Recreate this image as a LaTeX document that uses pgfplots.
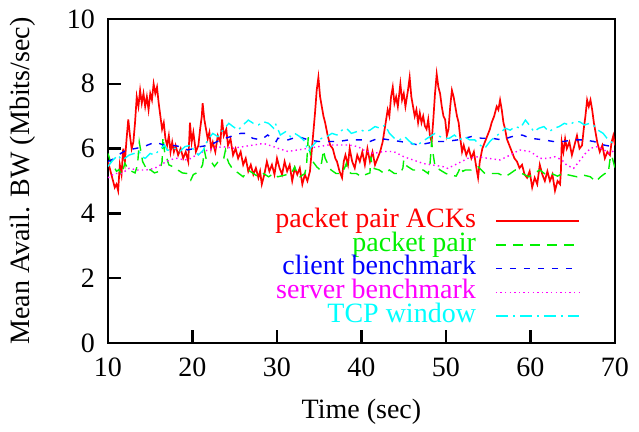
\documentclass[border=0pt]{standalone}
\usepackage{pgfplots}
\pgfplotsset{compat=1.18}
\usepackage{fontspec}
\setmainfont{Liberation Serif}

\definecolor{gpred}{RGB}{255,0,0}
\definecolor{gpgreen}{RGB}{0,240,0}
\definecolor{gpblue}{RGB}{0,0,255}
\definecolor{gpmagenta}{RGB}{255,0,255}
\definecolor{gpcyan}{RGB}{0,255,255}

\begin{document}
\begin{tikzpicture}[font=\fontsize{14bp}{16bp}\selectfont]
\useasboundingbox (-54bp,-44.5bp) rectangle (265.5bp,171.5bp);
\begin{axis}[
    at={(0,0)}, anchor=south west,
    scale only axis,
    width=253.5bp, height=162bp,
    xmin=10, xmax=70,
    ymin=0, ymax=10,
    xtick={10,20,...,70},
    ytick={0,2,...,10},
    tick pos=left,
    tick align=inside,
    major tick length=6.5bp,
    axis line style={line width=1.4bp},
    every tick/.style={black, line width=1.2bp},
    /pgf/number format/assume math mode=true,
    xticklabel style={yshift=-4bp},
    yticklabel style={xshift=-3bp},
    xlabel={Time (sec)},
    ylabel={Mean Avail. BW (Mbits/sec)},
    xlabel style={at={(axis description cs:0.5,-0.213)}, anchor=center},
    ylabel style={at={(axis description cs:-0.1677,0.5)}, anchor=center},
    legend plot pos=right,
    legend style={at={(rel axis cs:0.931,0.4136)}, anchor=north east,
        draw=none, fill=none, inner sep=0pt,
        column sep=9.5bp, row sep=0pt,
        nodes={inner sep=0pt, text height=9bp, text depth=2.85bp},
        cells={anchor=east}},
]

% packet pair ACKs
\addplot[gpred, line width=0.85bp,
    legend image code/.code={\draw[gpred, line width=0.8bp] (0bp,0bp) -- (41.5bp,0bp);}] table {
t v
10.0 5.6
10.3 5.3
10.6 5.0
10.8 4.8
11.0 4.9
11.2 4.7
11.4 5.5
11.6 5.2
11.8 6.0
12.0 5.6
12.2 6.3
12.4 6.9
12.6 6.4
12.8 6.0
13.0 6.2
13.2 6.8
13.4 7.6
13.6 7.3
13.8 7.8
14.0 7.4
14.2 7.7
14.4 7.3
14.6 7.6
14.8 7.2
15.0 7.7
15.2 7.5
15.4 8.0
15.6 7.7
15.8 7.9
16.0 7.4
16.2 7.0
16.4 6.6
16.6 6.8
16.8 6.3
17.0 6.1
17.2 6.4
17.4 5.9
17.6 6.2
17.8 5.9
18.0 6.1
18.3 5.8
18.6 6.0
18.9 5.7
19.2 5.9
19.5 5.6
19.7 6.8
19.9 6.2
20.1 6.5
20.4 5.9
20.7 6.1
20.9 6.6
21.1 7.0
21.2 7.4
21.4 6.9
21.6 6.6
21.8 6.3
22.0 6.5
22.2 6.0
22.4 6.2
22.7 5.9
23.0 6.4
23.3 6.2
23.5 6.9
23.7 6.4
24.0 6.6
24.2 6.1
24.5 6.3
24.8 5.8
25.1 6.0
25.4 5.7
25.7 5.9
26.0 5.5
26.3 5.7
26.6 5.3
26.9 5.5
27.2 5.2
27.5 5.4
27.8 5.1
28.0 5.3
28.2 4.9
28.5 5.2
28.8 5.6
29.1 5.3
29.4 5.5
29.7 5.2
30.0 5.7
30.3 5.4
30.6 5.2
30.9 5.6
31.2 5.3
31.5 5.5
31.8 5.0
32.1 5.4
32.4 5.2
32.7 5.4
33.0 4.9
33.3 5.2
33.6 5.0
33.9 5.3
34.1 5.9
34.3 6.5
34.5 7.1
34.7 7.8
34.9 8.2
35.1 7.6
35.3 7.3
35.5 7.0
35.7 6.8
36.0 6.4
36.3 6.1
36.6 6.0
36.9 5.7
37.1 5.6
37.4 5.3
37.7 5.1
37.9 5.6
38.1 5.8
38.4 5.5
38.6 6.0
38.9 5.6
39.2 5.4
39.5 5.8
39.8 5.6
40.1 5.9
40.4 5.5
40.7 6.0
41.0 5.6
41.3 5.9
41.6 5.5
41.9 5.7
42.2 5.9
42.5 6.2
42.8 6.7
43.1 7.2
43.3 7.0
43.5 7.6
43.7 7.9
43.9 7.4
44.1 7.6
44.3 7.3
44.6 8.0
44.8 7.5
45.0 7.7
45.2 7.3
45.5 7.8
45.7 8.2
45.9 7.6
46.1 7.3
46.3 7.0
46.5 7.2
46.7 6.8
46.9 7.1
47.1 6.8
47.3 7.0
47.5 6.7
47.7 6.6
47.9 6.9
48.1 6.4
48.3 6.2
48.5 6.9
48.7 7.7
48.9 8.3
49.1 7.9
49.3 7.7
49.5 7.3
49.7 7.0
49.9 6.9
50.1 6.4
50.3 6.6
50.5 7.3
50.7 7.8
50.9 7.6
51.1 7.3
51.3 7.0
51.5 6.8
51.7 6.3
51.9 5.9
52.1 6.1
52.4 5.8
52.7 6.0
53.0 5.7
53.3 5.9
53.6 5.4
53.8 5.1
54.0 5.6
54.3 6.0
54.6 6.2
54.9 6.4
55.2 6.6
55.4 6.8
55.7 7.0
56.0 7.3
56.2 7.2
56.4 7.5
56.6 7.2
56.8 6.8
57.0 6.6
57.2 6.3
57.5 6.1
57.8 5.9
58.1 5.7
58.4 5.6
58.7 5.4
59.0 5.5
59.3 5.2
59.6 5.1
59.9 5.3
60.2 4.8
60.5 5.1
60.8 4.9
61.1 5.5
61.4 5.2
61.7 5.0
62.0 5.3
62.3 5.0
62.6 5.2
62.9 4.7
63.2 5.0
63.5 4.9
63.6 5.3
63.7 6.2
63.9 5.9
64.1 6.3
64.3 6.0
64.6 6.2
64.9 5.8
65.2 6.1
65.5 6.4
65.8 6.0
66.1 6.1
66.3 6.6
66.5 7.0
66.7 7.5
66.9 7.3
67.1 7.5
67.3 7.2
67.5 6.8
67.7 6.5
67.9 6.2
68.2 5.9
68.5 6.1
68.8 5.7
69.1 5.9
69.4 5.8
69.6 6.2
69.8 6.4
70.0 6.1
};
\addlegendentry{\textcolor{gpred}{packet pair ACKs}}

% packet pair
\addplot[gpgreen, line width=0.7bp, dash pattern=on 5bp off 3.5bp,
    legend image code/.code={\draw[gpgreen, line width=0.7bp, dash pattern=on 5bp off 3.5bp] (0bp,0bp) -- (41.5bp,0bp);}] table {
t v
10.0 5.85
10.3 5.6
10.7 5.45
11.0 5.3
11.3 5.35
11.6 5.2
12.0 5.55
12.4 5.35
12.8 5.3
13.2 5.25
13.5 5.5
13.7 6.2
13.9 5.9
14.1 5.6
14.4 5.45
14.7 5.3
15.0 5.35
15.5 5.25
16.1 5.3
16.4 5.6
16.5 6.35
16.7 5.9
16.9 5.75
17.2 5.5
17.6 5.45
18.2 5.35
18.8 5.25
19.4 5.23
19.8 5.03
20.1 5.2
20.5 5.25
20.9 5.35
21.2 5.5
21.4 5.95
21.6 5.7
21.8 5.65
22.2 5.6
22.6 5.45
23.2 5.65
23.7 5.7
23.9 5.95
24.1 5.7
24.3 5.55
24.8 5.35
25.4 5.25
26.0 5.13
26.6 5.34
27.2 5.23
27.8 5.13
28.4 5.23
29.0 5.13
29.6 5.23
30.1 5.13
30.9 5.18
31.7 5.23
32.1 5.44
32.4 5.2
32.7 5.13
33.3 5.23
33.5 5.5
33.7 6.35
33.9 5.9
34.1 5.65
34.7 5.44
35.1 5.34
35.3 5.6
35.5 5.95
35.7 5.7
36.0 5.54
36.4 5.34
37.0 5.23
37.6 5.23
38.0 5.4
38.2 5.54
38.4 5.3
38.8 5.23
39.4 5.23
40.0 5.13
40.5 5.2
41.0 5.25
41.1 5.75
41.3 5.4
42.1 5.34
42.7 5.23
43.3 5.34
43.9 5.23
44.6 5.23
44.9 5.4
45.0 5.65
45.2 5.5
45.5 5.44
46.1 5.34
46.7 5.34
47.3 5.34
47.9 5.23
48.1 5.5
48.3 6.2
48.5 5.8
48.7 5.45
49.3 5.34
50.0 5.23
50.6 5.18
51.2 5.15
51.5 5.3
51.7 5.45
52.0 5.3
52.3 5.34
53.0 5.34
53.8 5.44
54.6 5.23
55.4 5.23
56.2 5.23
57.0 5.13
57.6 5.23
58.2 5.34
59.0 5.23
59.8 5.13
60.4 5.23
61.1 5.34
61.8 5.2
62.5 5.23
63.2 5.15
63.8 5.23
64.6 5.18
65.5 5.13
66.3 5.18
67.1 5.13
67.7 4.98
68.3 5.13
68.8 5.23
69.2 5.23
69.4 5.65
69.6 5.8
70.0 5.4
};
\addlegendentry{\textcolor{gpgreen}{packet pair}}

% client benchmark
\addplot[gpblue, line width=0.7bp, dash pattern=on 3bp off 4bp,
    legend image code/.code={\draw[gpblue, line width=0.7bp, dash pattern=on 3bp off 4bp] (0bp,0bp) -- (41.5bp,0bp);}] table {
t v
10.0 5.6
10.8 5.7
11.5 5.85
12.2 5.96
13.2 6.0
14.2 6.06
15.6 6.2
16.6 6.11
17.4 6.11
18.6 6.06
19.4 5.96
20.2 6.0
20.9 6.06
22.1 6.11
23.3 6.27
24.5 6.37
25.7 6.47
26.5 6.47
27.1 6.32
28.1 6.27
28.9 6.42
29.9 6.22
30.1 6.32
31.3 6.27
32.5 6.37
33.7 6.27
34.9 6.22
36.1 6.22
37.3 6.22
38.5 6.27
39.6 6.27
40.2 6.27
41.0 6.22
42.0 6.32
43.3 6.27
44.6 6.22
45.8 6.16
46.8 6.11
47.7 6.16
48.9 6.22
50.0 6.22
51.4 6.27
53.0 6.37
54.2 6.32
55.4 6.32
56.6 6.27
57.8 6.37
59.0 6.42
60.0 6.32
61.5 6.27
62.7 6.22
63.9 6.22
65.1 6.27
66.3 6.27
67.5 6.22
68.7 6.11
69.7 6.06
70.0 6.1
};
\addlegendentry{\textcolor{gpblue}{client benchmark}}

% server benchmark
\addplot[gpmagenta, line width=0.7bp, dash pattern=on 0.7bp off 1.6bp,
    legend image code/.code={\draw[gpmagenta, line width=0.7bp, dash pattern=on 0.7bp off 1.6bp] (0bp,0bp) -- (41.5bp,0bp);}] table {
t v
10.0 5.1
10.8 5.23
11.6 5.23
12.5 5.39
13.5 5.34
14.5 5.34
15.5 5.39
16.5 5.54
17.3 5.65
18.1 5.70
19.1 5.65
19.9 5.70
20.1 5.75
21.3 5.91
22.5 6.01
23.6 6.06
24.8 6.01
26.0 6.06
27.2 6.11
28.4 6.16
29.6 6.06
30.1 6.01
31.3 5.91
32.5 5.96
33.7 6.01
34.9 6.06
36.1 6.11
37.3 6.11
38.5 6.11
39.6 6.06
40.2 5.96
41.4 5.85
42.6 5.91
43.8 5.91
45.0 5.75
46.1 5.65
47.3 5.54
48.5 5.49
49.7 5.44
50.2 5.39
51.4 5.54
52.6 5.70
53.8 5.75
55.0 5.70
56.4 5.65
57.6 5.80
58.7 5.96
59.9 5.91
60.3 5.85
61.1 5.70
62.1 5.70
62.9 5.75
63.7 5.65
64.3 5.49
65.1 5.39
65.9 5.65
66.5 5.85
67.1 6.01
67.9 6.06
68.7 5.96
69.4 5.85
70.0 5.96
};
\addlegendentry{\textcolor{gpmagenta}{server benchmark}}

% TCP window
\addplot[gpcyan, line width=0.7bp, dash pattern=on 6bp off 2.5bp on 1bp off 2.5bp,
    legend image code/.code={\draw[gpcyan, line width=0.7bp, dash pattern=on 6bp off 2.5bp on 1bp off 2.5bp] (0bp,0bp) -- (41.5bp,0bp);}] table {
t v
10.0 5.45
10.3 5.55
10.6 5.65
11.2 5.8
11.6 5.65
12.0 5.7
12.5 5.8
13.1 5.85
13.7 5.91
14.0 5.75
14.4 5.7
15.0 5.85
15.5 5.8
16.1 5.96
16.7 6.11
17.0 5.95
17.3 5.96
17.9 6.01
18.5 5.91
19.1 6.06
19.9 6.11
20.1 5.96
20.7 5.8
21.3 5.96
21.8 6.27
22.4 6.47
23.0 6.37
23.6 6.57
24.3 6.78
24.8 6.68
25.4 6.57
26.0 6.73
26.6 6.88
27.2 6.78
27.8 6.73
28.4 6.83
29.0 6.78
29.6 6.63
29.8 6.78
30.4 6.42
31.0 6.52
31.6 6.37
32.1 6.47
32.7 6.37
33.3 6.22
33.7 5.91
34.1 6.06
34.7 6.22
35.3 6.32
35.9 6.37
36.5 6.47
37.1 6.42
37.7 6.57
38.2 6.63
38.8 6.47
39.4 6.52
40.0 6.57
40.4 6.52
41.0 6.57
41.6 6.68
42.2 6.63
42.8 6.73
43.3 6.47
43.9 6.32
44.5 6.27
45.1 6.37
45.7 6.22
46.3 6.11
46.9 6.16
47.5 6.27
48.1 6.37
48.7 6.47
49.3 6.37
49.9 6.32
50.4 6.32
51.0 6.42
51.6 6.27
52.2 6.37
52.8 6.27
53.4 6.27
54.0 6.11
54.6 6.01
55.2 6.22
55.8 6.37
56.4 6.47
57.0 6.63
57.6 6.57
58.2 6.68
58.8 6.63
59.4 6.88
60.0 6.68
60.4 6.52
61.0 6.63
61.6 6.68
62.2 6.52
62.8 6.63
63.4 6.68
64.0 6.78
64.6 6.73
65.2 6.83
65.8 6.83
66.4 6.73
67.0 6.78
67.4 6.73
68.0 6.57
68.6 6.47
69.2 6.27
69.8 6.16
70.0 6.2
};
\addlegendentry{\textcolor{gpcyan}{TCP window}}

\end{axis}
\end{tikzpicture}
\end{document}
